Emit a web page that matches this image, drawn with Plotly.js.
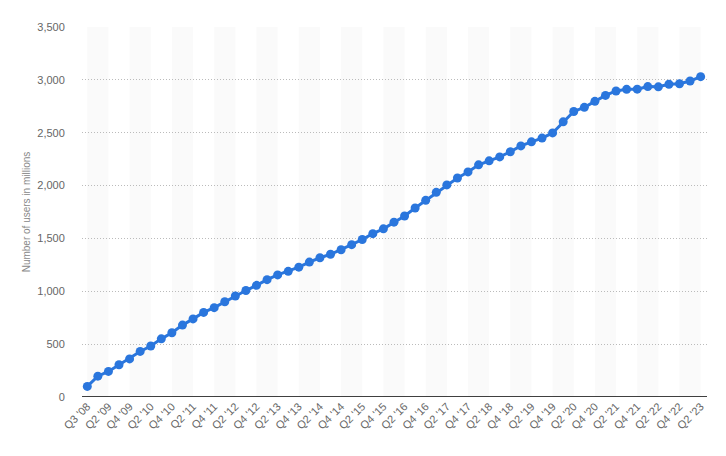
<!DOCTYPE html>
<html>
<head>
<meta charset="utf-8">
<script src="https://cdn.plot.ly/plotly-3.0.1.min.js"></script>
<style>html,body{margin:0;padding:0;background:#fff;}#chart{width:726px;height:456px;}</style>
</head>
<body>
<div id="chart"></div>
<script>
const quarters = ["Q3 '08","Q1 '09","Q2 '09","Q3 '09","Q4 '09","Q1 '10","Q2 '10","Q3 '10","Q4 '10",
  "Q1 '11","Q2 '11","Q3 '11","Q4 '11","Q1 '12","Q2 '12","Q3 '12","Q4 '12",
  "Q1 '13","Q2 '13","Q3 '13","Q4 '13","Q1 '14","Q2 '14","Q3 '14","Q4 '14",
  "Q1 '15","Q2 '15","Q3 '15","Q4 '15","Q1 '16","Q2 '16","Q3 '16","Q4 '16",
  "Q1 '17","Q2 '17","Q3 '17","Q4 '17","Q1 '18","Q2 '18","Q3 '18","Q4 '18",
  "Q1 '19","Q2 '19","Q3 '19","Q4 '19","Q1 '20","Q2 '20","Q3 '20","Q4 '20",
  "Q1 '21","Q2 '21","Q3 '21","Q4 '21","Q1 '22","Q2 '22","Q3 '22","Q4 '22",
  "Q1 '23","Q2 '23"];
const users = [100,197,242,305,360,431,482,550,608,
  680,739,800,845,901,955,1007,1056,
  1110,1155,1189,1228,1276,1317,1350,1393,
  1441,1490,1545,1591,1654,1712,1788,1860,
  1936,2006,2072,2129,2196,2234,2271,2320,
  2375,2414,2449,2498,2603,2701,2740,2797,
  2853,2895,2910,2912,2936,2934,2958,2963,
  2989,3030];
const yTicks = [0,500,1000,1500,2000,2500,3000,3500];

const idx = quarters.map((q,i)=>i);
const tickvals = idx.filter(i=>i%2===0);
const ticktext = tickvals.map(i=>quarters[i]);

const shapes = [];
for (let i=0;i<quarters.length-1;i+=4){
  shapes.push({type:'rect',xref:'x',yref:'paper',x0:i,x1:i+2,y0:0,y1:1,
    fillcolor:'#fafafa',line:{width:0},layer:'below'});
}
shapes.push({type:'line',xref:'paper',yref:'y',x0:0,x1:1,y0:0,y1:0,line:{color:'#000',width:1.5},layer:'above'});

const trace = {
  x: idx, y: users, type:'scatter', mode:'lines+markers',
  line:{color:'#2a76dd',width:3},
  marker:{color:'#2a76dd',size:9},
  hoverinfo:'skip'
};

const layout = {
  width:726,height:456,
  margin:{l:82,r:19,t:27,b:59},
  paper_bgcolor:'#fff',plot_bgcolor:'rgba(0,0,0,0)',
  font:{family:'"Liberation Sans", Arial, sans-serif',color:'#666',size:11},
  showlegend:false,
  xaxis:{range:[-0.5,58.6],tickvals:tickvals,ticktext:ticktext,tickangle:-45,
    showgrid:false,zeroline:false,showline:false,ticks:'',tickfont:{size:11,color:'#666'},fixedrange:true},
  yaxis:{range:[0,3500],tickvals:yTicks,tickformat:',',showgrid:true,gridcolor:'#bbbbbb',griddash:'1px,2px',gridwidth:1,
    zeroline:false,showline:false,ticks:'outside',ticklen:14,tickcolor:'rgba(0,0,0,0)',tickfont:{size:11,color:'#666'},
    title:{text:'Number of users in millions',font:{size:10,color:'#888'},standoff:4},fixedrange:true},
  shapes:shapes
};
Plotly.newPlot('chart',[trace],layout,{displayModeBar:false,staticPlot:true});
</script>
</body>
</html>
